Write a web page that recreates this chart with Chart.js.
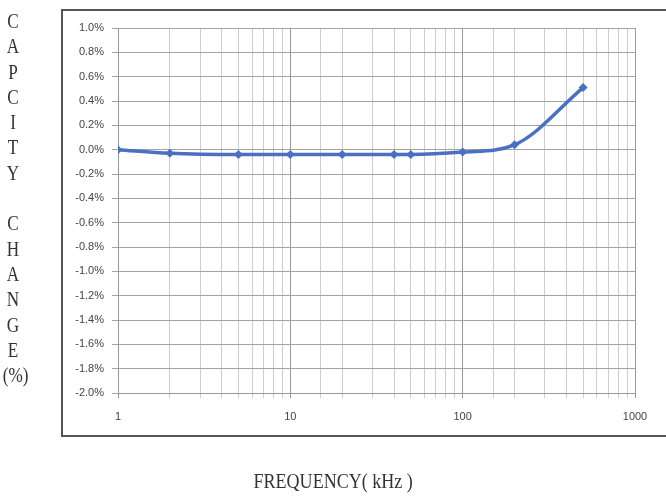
<!DOCTYPE html>
<html>
<head>
<meta charset="utf-8">
<script src="https://cdn.jsdelivr.net/npm/chart.js@4/dist/chart.umd.min.js"></script>
<style>
  html,body{margin:0;padding:0;background:#fff;}
  body{width:666px;height:498px;position:relative;overflow:hidden;font-family:"Liberation Serif",serif;}
  #frame{position:absolute;left:61px;top:9px;width:620px;height:428px;border:2px solid #555;box-sizing:border-box;}
  #wrap{position:absolute;left:0;top:0;width:666px;height:498px;}
  #ytitle{position:absolute;left:0px;top:8px;width:26px;text-align:center;font-size:22px;line-height:25.3px;color:#333;transform:scaleX(0.78);transform-origin:center top;}
  #xtitle{position:absolute;left:0;width:666px;top:468px;text-align:center;font-size:22px;color:#333;}
  #xtitle span{display:inline-block;transform:scaleX(0.82);}
</style>
</head>
<body>
<div id="frame"></div>
<div id="wrap"><canvas id="c" width="666" height="498"></canvas></div>
<div id="ytitle">C<br>A<br>P<br>C<br>I<br>T<br>Y<br><br>C<br>H<br>A<br>N<br>G<br>E<br>(%)</div>
<div id="xtitle"><span>FREQUENCY( kHz )</span></div>
<script>
const frequencies = [1, 2, 5, 10, 20, 40, 50, 100, 200, 500];
const capChange = [0.00, -0.03, -0.04, -0.04, -0.04, -0.04, -0.04, -0.02, 0.04, 0.51];
const xTickLabels = [1, 10, 100, 1000];
const yMin = -2.0, yMax = 1.0, yStep = 0.2;

const points = frequencies.map((f, i) => ({x: f, y: capChange[i]}));
const isDecade = v => xTickLabels.includes(v);

new Chart(document.getElementById('c'), {
  type: 'line',
  data: {
    datasets: [{
      data: points,
      borderColor: '#4a70c4',
      backgroundColor: '#4a70c4',
      borderWidth: 3.5,
      pointStyle: 'rectRot',
      pointRadius: 4.5,
      pointBorderWidth: 0,
      cubicInterpolationMode: 'monotone',
      fill: false
    }]
  },
  options: {
    responsive: false,
    animation: false,
    layout: {padding: {left: 61, right: 31, top: 28, bottom: 65}},
    plugins: {legend: {display: false}, tooltip: {enabled: false}},
    scales: {
      x: {
        type: 'logarithmic',
        min: 1, max: 1000,
        afterFit: s => { s.height = 40; },
        grid: {
          color: ctx => (ctx.tick && isDecade(ctx.tick.value)) ? '#999999' : '#cdcdcd',
          lineWidth: 1,
          drawTicks: true,
          tickLength: 5
        },
        border: {color: '#999999'},
        ticks: {
          autoSkip: false,
          maxRotation: 0,
          padding: 12,
          color: '#444',
          font: {family: 'Liberation Sans', size: 11},
          callback: v => isDecade(v) ? String(v) : ''
        }
      },
      y: {
        min: yMin, max: yMax,
        afterFit: s => { s.width = 57; },
        grid: {color: '#a3a3a3', lineWidth: 1, tickLength: 6},
        border: {color: '#999999'},
        ticks: {
          stepSize: yStep,
          color: '#444',
          padding: 8,
          font: {family: 'Liberation Sans', size: 11},
          callback: v => v.toFixed(1) + '%'
        }
      }
    }
  }
});
</script>
</body>
</html>
